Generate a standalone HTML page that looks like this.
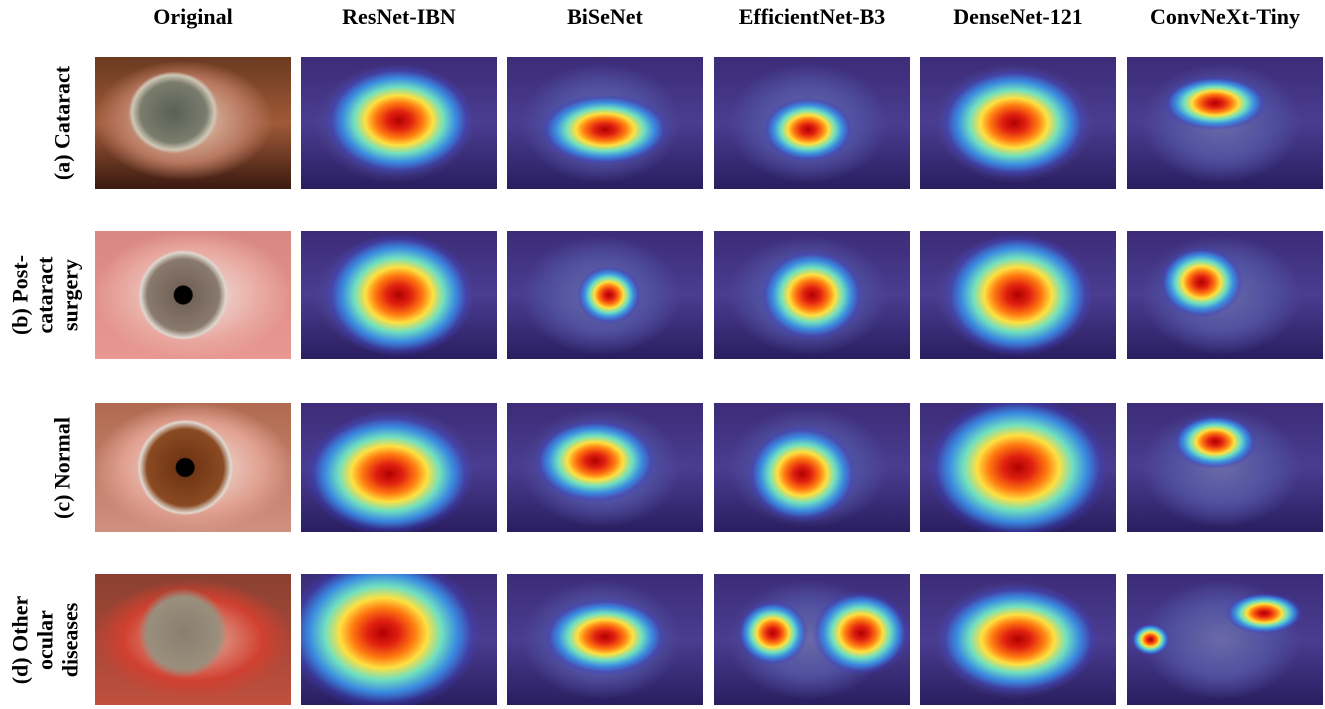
<!DOCTYPE html>
<html><head><meta charset="utf-8">
<style>
body{margin:0;width:1325px;height:709px;background:#fff;position:relative;overflow:hidden;font-family:"Liberation Serif",serif;}
.hdr{position:absolute;top:4px;font-weight:bold;font-size:22px;text-align:center;width:196px;color:#000;}
.cell{position:absolute;width:196px;overflow:hidden;}
.rl{position:absolute;font-weight:bold;font-size:22px;line-height:25px;text-align:center;transform:translate(-50%,-50%) rotate(-90deg);white-space:nowrap;color:#000;}
</style></head><body>
<div id="headers"></div>
<div id="grid"></div>
<div class="rl" style="left:62px;top:123px;">(a) Cataract</div>
<div class="rl" style="left:45px;top:295px;">(b) Post-<br>cataract<br>surgery</div>
<div class="rl" style="left:62px;top:468px;">(c) Normal</div>
<div class="rl" style="left:45px;top:640px;">(d) Other<br>ocular<br>diseases</div>
<script>
const columns=["Original","ResNet-IBN","BiSeNet","EfficientNet-B3","DenseNet-121","ConvNeXt-Tiny"];
const colX=[95,301,507,714,920,1127];
const rowY=[57,231,403,574];
const rowH=[132,128,129,131];
const spotsA=[[50,48,115,85],[50,55,100,55],[48,55,70,50],[48,50,115,85],[45,35,80,42]];
const spotsB=[[50,50,115,95],[52,50,50,45],[50,50,80,70],[50,50,115,95],[38,40,65,55]];
const spotsC=[[45,55,130,95],[45,45,95,65],[45,55,85,75],[50,50,140,110],[45,30,65,42]];
const spotsD=[[42,45,150,120],[50,48,95,60],[75,45,75,65],[50,50,125,85],[70,30,60,32]];
const extraD=[null,null,[30,45,55,50],null,[12,50,30,25]];
const rows=[spotsA,spotsB,spotsC,spotsD];
const scale=1.3;
const origBg=[
 "radial-gradient(ellipse 55px 50px at 40% 42%, #5a6058 0%,#7a7c6c 60%,#cfc7b5 75%,transparent 82%),radial-gradient(ellipse 90px 60px at 45% 48%,#e9d3c0 0%,#b87860 70%,transparent 100%),linear-gradient(#6a3a20,#a05a38 50%,#3a1a10)",
 "radial-gradient(circle 10px at 45% 50%,#000 0%,#000 90%,transparent 100%),radial-gradient(ellipse 45px 45px at 45% 50%,#6b5a50 0%,#8a7a6e 80%,#dfd8d0 95%,transparent 100%),radial-gradient(ellipse 100px 65px at 50% 50%,#f0e6e0 0%,#e8a8a0 70%,transparent 100%),linear-gradient(#d88880,#e89890)",
 "radial-gradient(circle 10px at 46% 50%,#000 0%,#000 90%,transparent 100%),radial-gradient(ellipse 48px 48px at 46% 50%,#6a3012 0%,#8a4a22 80%,#e0d8d0 95%,transparent 100%),radial-gradient(ellipse 100px 65px at 50% 50%,#f0e8e4 0%,#e0a090 70%,transparent 100%),linear-gradient(#b06a50,#d09080)",
 "radial-gradient(ellipse 45px 45px at 45% 45%,#8a8070 0%,#9a8e7c 80%,transparent 100%),radial-gradient(ellipse 100px 60px at 50% 50%,#e8c0b0 0%,#d04030 70%,transparent 100%),linear-gradient(#8a4030,#c05040)"
];
const hdr=document.getElementById('headers');
columns.forEach((c,i)=>{const d=document.createElement('div');d.className='hdr';d.style.left=colX[i]+'px';d.textContent=c;


hdr.appendChild(d);});
function heat(s){return `radial-gradient(ellipse ${s[2]*scale/2}px ${s[3]*scale/2}px at ${s[0]}% ${s[1]}%, #b00000 0%,#e02010 16%,#ff7a10 32%,#ffe040 45%,#70e0c0 60%,#3a8ae0 76%,rgba(60,70,200,0.4) 90%,transparent 100%)`;}
const g=document.getElementById('grid');
rows.forEach((r,ri)=>{
 for(let ci=0;ci<6;ci++){
  const d=document.createElement('div');d.className='cell';
  
  
  d.style.left=colX[ci]+'px';d.style.top=rowY[ri]+'px';d.style.height=rowH[ri]+'px';
  if(ci===0){d.style.background=origBg[ri];}
  else{
   const s=r[ci-1];let bg=heat(s);
   if(ri===3&&extraD[ci-1])bg+=','+heat(extraD[ci-1]);
   bg+=',radial-gradient(ellipse 80px 60px at 48% 50%,#6a6aa8 0%,#5050a0 60%,transparent 100%),linear-gradient(#3c2c78,#4a3c90 50%,#2a1e60)';
   d.style.background=bg;
  }
  g.appendChild(d);
 }
});
</script>
</body></html>
